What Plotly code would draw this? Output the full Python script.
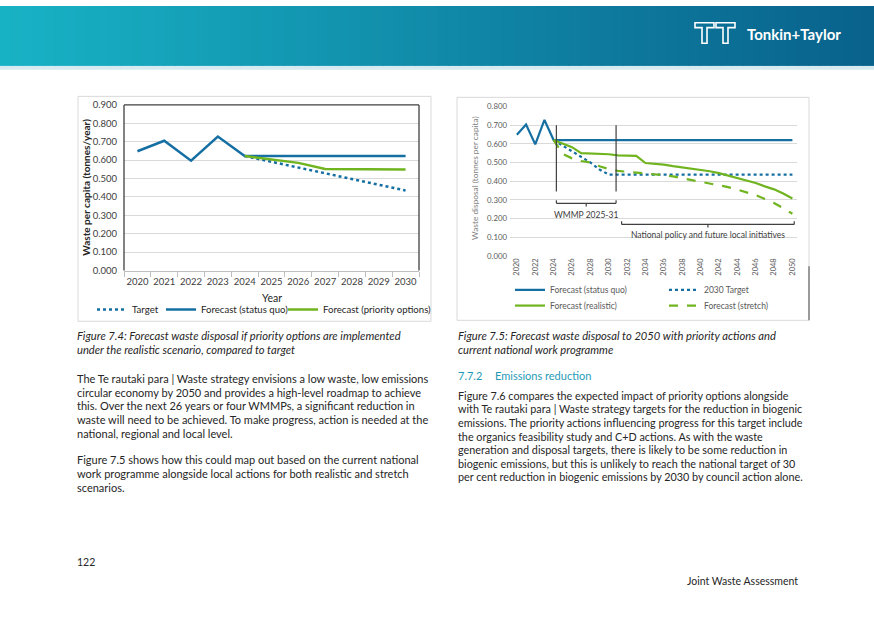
import plotly.graph_objects as go

# ---------------- data ----------------
years_left = ["2020", "2021", "2022", "2023", "2024", "2025", "2026", "2027", "2028", "2029", "2030"]
left_status_quo = [0.648, 0.705, 0.597, 0.728, 0.622, 0.622, 0.622, 0.622, 0.622, 0.622, 0.622]
left_target = [None, None, None, None, 0.622, 0.590, 0.558, 0.527, 0.497, 0.466, 0.435]
left_priority = [None, None, None, None, 0.622, 0.605, 0.585, 0.552, 0.551, 0.549, 0.549]

years_right = list(range(2020, 2051))
right_status_quo = [0.648, 0.703, 0.597, 0.728, 0.620] + [0.620] * 26
right_target = [None, None, None, None, 0.620, 0.590, 0.560, 0.530, 0.500, 0.462, 0.435] + [0.435] * 20
right_realistic = [None, None, None, None, 0.620, 0.600, 0.582, 0.550, 0.549, 0.546, 0.544,
                   0.538, 0.537, 0.535, 0.497, 0.493, 0.488, 0.480, 0.474, 0.469, 0.462,
                   0.453, 0.443, 0.430, 0.415, 0.402, 0.390, 0.372, 0.356, 0.334, 0.307]
right_stretch = [None, None, None, None, 0.620, 0.545, 0.522, 0.508, 0.500, 0.480, 0.465,
                 0.455, 0.450, 0.446, 0.442, 0.438, 0.432, 0.425, 0.416, 0.407, 0.399,
                 0.390, 0.380, 0.368, 0.355, 0.340, 0.325, 0.304, 0.283, 0.255, 0.225]
right_xticks = list(range(2020, 2051, 2))

W, H = 874, 618
BLUE = "#156fa3"
GREEN = "#70b41f"
FONT = "Lato"
TXT = "#262626"

def X(px):
    return px / W

def Y(py):
    return 1 - py / H

fig = go.Figure()

# ---------------- left chart ----------------
fig.add_trace(go.Scatter(x=years_left, y=left_target, mode="lines", name="Target",
                         line=dict(color=BLUE, width=2.5, dash="dot"), xaxis="x", yaxis="y", legend="legend"))
fig.add_trace(go.Scatter(x=years_left, y=left_status_quo, mode="lines", name="Forecast (status quo)",
                         line=dict(color=BLUE, width=2.5), xaxis="x", yaxis="y", legend="legend4"))
fig.add_trace(go.Scatter(x=years_left, y=left_priority, mode="lines", name="Forecast (priority options)",
                         line=dict(color=GREEN, width=2.5), xaxis="x", yaxis="y", legend="legend5"))

# ---------------- right chart ----------------
fig.add_trace(go.Scatter(x=years_right, y=right_status_quo, mode="lines", name="Forecast (status quo)",
                         line=dict(color=BLUE, width=2.2), xaxis="x2", yaxis="y2", legend="legend2"))
fig.add_trace(go.Scatter(x=years_right, y=right_target, mode="lines", name="2030 Target",
                         line=dict(color=BLUE, width=2.2, dash="dot"), xaxis="x2", yaxis="y2", legend="legend2"))
fig.add_trace(go.Scatter(x=years_right, y=right_realistic, mode="lines", name="Forecast (realistic)",
                         line=dict(color=GREEN, width=2.2), xaxis="x2", yaxis="y2", legend="legend3"))
fig.add_trace(go.Scatter(x=years_right, y=right_stretch, mode="lines", name="Forecast (stretch)",
                         line=dict(color=GREEN, width=2.2, dash="dash"), xaxis="x2", yaxis="y2", legend="legend3"))

shapes = []
# header gradient
N = 80
c0 = (24, 178, 197)
c1 = (9, 98, 140)
for i in range(N):
    t = i / (N - 1)
    col = "rgb(%d,%d,%d)" % tuple(round(a + (b - a) * t) for a, b in zip(c0, c1))
    shapes.append(dict(type="rect", xref="paper", yref="paper", x0=X(W * i / N), x1=X(W * (i + 1) / N + 1),
                       y0=Y(61), y1=Y(0), line=dict(width=0), fillcolor=col, layer="below"))
shapes.append(dict(type="rect", xref="paper", yref="paper", x0=0, x1=1, y0=Y(65), y1=Y(61),
                   line=dict(width=0), fillcolor="#d5eaf1", layer="below"))
# logo icon (two outlined T's)
for ox in (695, 716):
    pts = [(0, 0), (19, 0), (19, 5), (12, 5), (12, 21), (7, 21), (7, 5), (0, 5)]
    path = "M " + " L ".join("%f,%f" % (X(ox + a), Y(17 + b)) for a, b in pts) + " Z"
    shapes.append(dict(type="path", xref="paper", yref="paper", path=path,
                       line=dict(color="white", width=1.6)))

# chart frames
shapes.append(dict(type="rect", xref="paper", yref="paper", x0=X(78), x1=X(431), y0=Y(321), y1=Y(92),
                   line=dict(color="#d9d9d9", width=1)))
shapes.append(dict(type="rect", xref="paper", yref="paper", x0=X(457), x1=X(809), y0=Y(320), y1=Y(93),
                   line=dict(color="#d9d9d9", width=1)))
shapes.append(dict(type="line", xref="paper", yref="paper", x0=X(809), x1=X(809), y0=Y(320), y1=Y(265),
                   line=dict(color="#7f7f7f", width=1.5)))
# left plot border (left, top, right)
for (a0, b0, a1, b1) in [(0, 0, 0, 1), (0, 1, 1, 1), (1, 0, 1, 1)]:
    shapes.append(dict(type="line", xref="x domain", yref="y domain", x0=a0, y0=b0, x1=a1, y1=b1,
                       line=dict(color="#404040", width=1.3)))

# right chart period markers and brackets
for xv in (2024.3, 2030.8):
    shapes.append(dict(type="line", xref="x2", yref="y2", x0=xv, x1=xv, y0=0.345, y1=0.700,
                       line=dict(color="#404040", width=1.2)))
def brace(xa, xb, yv, up, down, xm):
    out = []
    out.append(dict(type="line", xref="x2", yref="y2", x0=xa, x1=xb, y0=yv, y1=yv,
                    line=dict(color="#404040", width=1.2)))
    for xv in (xa, xb):
        out.append(dict(type="line", xref="x2", yref="y2", x0=xv, x1=xv, y0=yv, y1=yv + up,
                        line=dict(color="#404040", width=1.2)))
    out.append(dict(type="line", xref="x2", yref="y2", x0=xm, x1=xm, y0=yv, y1=yv - down,
                    line=dict(color="#404040", width=1.2)))
    return out
shapes += brace(2024.3, 2030.8, 0.281, 0.017, 0.017, 2027.55)
shapes += brace(2031.4, 2050.2, 0.168, 0.017, 0.017, 2040.8)

annotations = []
BODY = 11.0
ITAL = 11.2
def txt(x, y, s, size=BODY, color=TXT, anchor="left", family=FONT, **kw):
    annotations.append(dict(xref="paper", yref="paper", x=X(x), y=Y(y), text=s, showarrow=False,
                            xanchor=anchor, yanchor="middle",
                            font=dict(family=family, size=size, color=color), **kw))

txt(794, 28, "<b>Tonkin+Taylor</b>", size=15, color="white", anchor="center")

# axis titles
annotations.append(dict(xref="paper", yref="paper", x=X(86), y=Y(185), text="<b>Waste per capita (tonnes/year)</b>",
                        textangle=-90, showarrow=False, xanchor="center", yanchor="middle",
                        font=dict(family=FONT, size=10, color="#262626")))
annotations.append(dict(xref="paper", yref="paper", x=X(475), y=Y(175), text="Waste disposal (tonnes per capita)",
                        textangle=-90, showarrow=False, xanchor="center", yanchor="middle",
                        font=dict(family=FONT, size=8.3, color="#7f7f7f")))
txt(271.5, 297, "Year", size=10.5, anchor="center")

annotations.append(dict(xref="x2", yref="y2", x=2027.55, y=0.221, text="WMMP 2025-31", showarrow=False,
                        xanchor="center", yanchor="middle", font=dict(family=FONT, size=8.5, color="#404040")))
annotations.append(dict(xref="x2", yref="y2", x=2040.8, y=0.111, text="National policy and future local initiatives",
                        showarrow=False, xanchor="center", yanchor="middle",
                        font=dict(family=FONT, size=8.5, color="#404040")))

# body text - left column
txt(75, 335.7, "<i>Figure 7.4: Forecast waste disposal if priority options are implemented</i>", size=ITAL)
txt(75, 349.3, "<i>under the realistic scenario, compared to target</i>", size=ITAL)
left_lines = [
    (379, "The Te rautaki para | Waste strategy envisions a low waste, low emissions"),
    (393, "circular economy by 2050 and provides a high-level roadmap to achieve"),
    (407, "this. Over the next 26 years or four WMMPs, a significant reduction in"),
    (421, "waste will need to be achieved. To make progress, action is needed at the"),
    (435, "national, regional and local level."),
    (462, "Figure 7.5 shows how this could map out based on the current national"),
    (476, "work programme alongside local actions for both realistic and stretch"),
    (490, "scenarios."),
]
for yy, s in left_lines:
    txt(75, yy, s)

# body text - right column
txt(456, 335.7, "<i>Figure 7.5: Forecast waste disposal to 2050 with priority actions and</i>", size=ITAL)
txt(456, 349.3, "<i>current national work programme</i>", size=ITAL)
txt(456, 376, "7.7.2", color="#1f9bb6")
txt(493, 376, "Emissions reduction", color="#1f9bb6")
right_lines = [
    (396.7, "Figure 7.6 compares the expected impact of priority options alongside"),
    (410.3, "with Te rautaki para | Waste strategy targets for the reduction in biogenic"),
    (424, "emissions. The priority actions influencing progress for this target include"),
    (438, "the organics feasibility study and C+D actions. As with the waste"),
    (451.7, "generation and disposal targets, there is likely to be some reduction in"),
    (465.7, "biogenic emissions, but this is unlikely to reach the national target of 30"),
    (479.3, "per cent reduction in biogenic emissions by 2030 by council action alone."),
]
for yy, s in right_lines:
    txt(456, yy, s, size=10.8)

txt(75, 566, "122", size=10.5)
txt(800, 585, "Joint Waste Assessment", size=10.5, anchor="right")

leg_common = dict(orientation="h", xanchor="left", yanchor="middle", bgcolor="rgba(0,0,0,0)", itemwidth=30)
fig.update_layout(
    width=W, height=H,
    margin=dict(l=0, r=0, t=0, b=0),
    paper_bgcolor="white", plot_bgcolor="white",
    font=dict(family=FONT, color=TXT),
    showlegend=True,
    shapes=shapes, annotations=annotations,
    xaxis=dict(domain=[X(124), X(419)], type="category", range=[-0.5, 10.5], tickangle=0,
               showgrid=False, zeroline=False, showline=True, linecolor="#bfbfbf", linewidth=1,
               ticks="outside", tickson="boundaries", ticklen=5, tickcolor="#bfbfbf",
               ticklabelstandoff=2,
               tickfont=dict(size=9.5, color="#404040"), anchor="y"),
    yaxis=dict(domain=[Y(269.3), Y(100.7)], range=[0, 0.9], dtick=0.1, tickformat=".3f",
               showgrid=True, gridcolor="#d9d9d9", zeroline=False, showline=False,
               ticklabelstandoff=6, tickfont=dict(size=9.5, color="#404040"), anchor="x"),
    xaxis2=dict(domain=[X(510), X(797)], range=[2019.25, 2050.5], tickvals=right_xticks,
                tickangle=-90, showgrid=False, zeroline=False, showline=False,
                tickfont=dict(size=7.5, color="#595959"), anchor="y2"),
    yaxis2=dict(domain=[Y(254.3), Y(102.3)], range=[0, 0.8], dtick=0.1, tickformat=".3f",
                showgrid=True, gridcolor="#d9d9d9", zeroline=False, showline=False,
                ticklabelstandoff=2, tickfont=dict(size=7.8, color="#595959"), anchor="x2"),
    legend=dict(x=X(92), y=Y(309), font=dict(size=9.6, color="#262626"), **leg_common),
    legend4=dict(x=X(161), y=Y(309), font=dict(size=9.6, color="#262626"), **leg_common),
    legend5=dict(x=X(283), y=Y(309), font=dict(size=9.6, color="#262626"), **leg_common),
    legend2=dict(x=X(510), y=Y(289), font=dict(size=8.5, color="#595959"), entrywidth=109, **leg_common),
    legend3=dict(x=X(510), y=Y(305), font=dict(size=8.5, color="#595959"), entrywidth=109, **leg_common),
)

fig.write_html("out.html", config={"displayModeBar": False},
               post_script="document.body.style.margin='0';document.body.style.padding='0';")
